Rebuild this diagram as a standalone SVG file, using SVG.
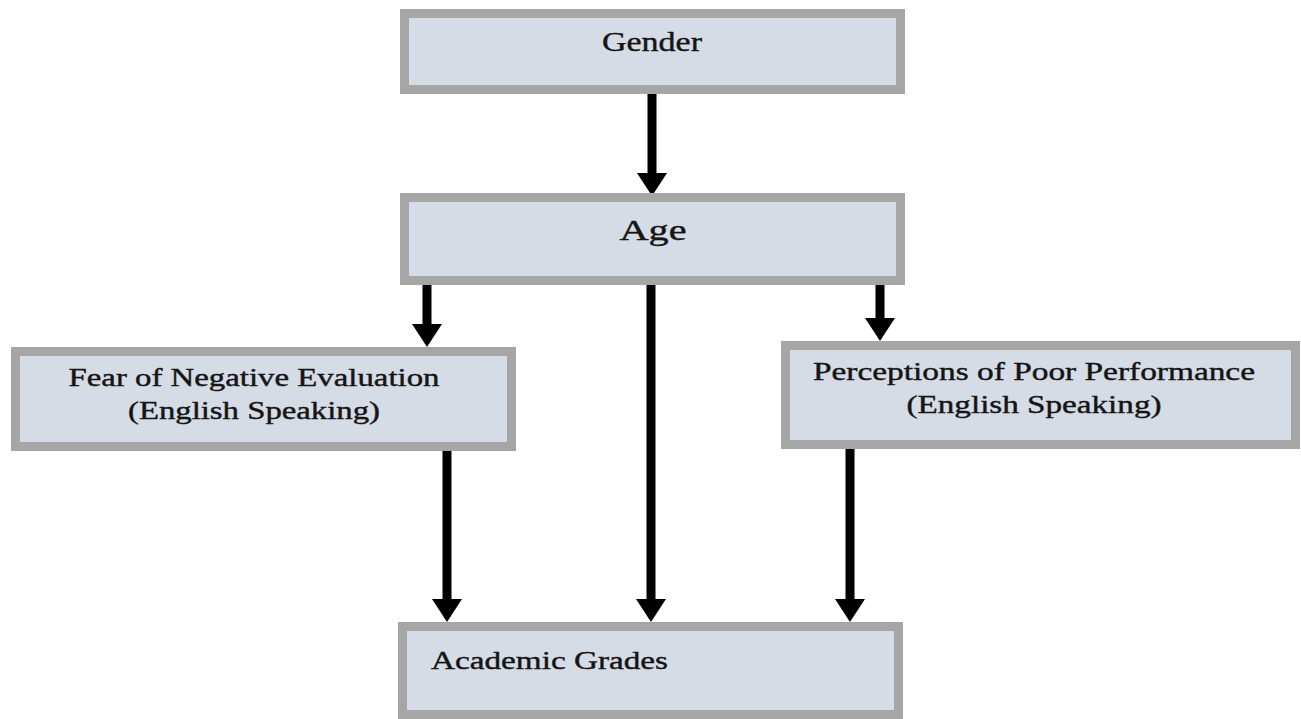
<svg xmlns="http://www.w3.org/2000/svg" width="1301" height="719" viewBox="0 0 1301 719">
<defs>
<style>
.box{fill:#d6dce5;stroke:#a6a6a6;stroke-width:9}
.t{font-family:"Liberation Serif","Times New Roman",serif;fill:#151515;stroke:#151515;stroke-width:0.4}
.c{stroke:#000;stroke-width:9;fill:none}
</style>
<marker id="ah" markerUnits="userSpaceOnUse" markerWidth="24" markerHeight="30" refX="2" refY="15" orient="auto" viewBox="0 0 24 30">
<path d="M0,0 L23,15 L0,30 Z" fill="#000"/>
</marker>
</defs>
<rect width="1301" height="719" fill="#fff"/>
<g id="connectors">
<line class="c" x1="652" y1="94" x2="652" y2="175" marker-end="url(#ah)"/>
<line class="c" x1="427" y1="285" x2="427" y2="326" marker-end="url(#ah)"/>
<line class="c" x1="651" y1="285" x2="651" y2="601" marker-end="url(#ah)"/>
<line class="c" x1="880" y1="285" x2="880" y2="320" marker-end="url(#ah)"/>
<line class="c" x1="447" y1="450" x2="447" y2="601" marker-end="url(#ah)"/>
<line class="c" x1="850" y1="448" x2="850" y2="601" marker-end="url(#ah)"/>
</g>
<g id="gender">
<rect class="box" x="404.5" y="13.5" width="496" height="76"/>
<text class="t" x="652" y="51" font-size="27" text-anchor="middle" textLength="100" lengthAdjust="spacingAndGlyphs">Gender</text>
</g>
<g id="age">
<rect class="box" x="404.5" y="197.5" width="496" height="83"/>
<text class="t" x="653" y="240" font-size="30" text-anchor="middle" textLength="67" lengthAdjust="spacingAndGlyphs">Age</text>
</g>
<g id="fear">
<rect class="box" x="15.5" y="351.5" width="496" height="95"/>
<text class="t" x="254" y="386" font-size="25" text-anchor="middle" textLength="371" lengthAdjust="spacingAndGlyphs">Fear of Negative Evaluation</text>
<text class="t" x="254" y="419" font-size="25" text-anchor="middle" textLength="252" lengthAdjust="spacingAndGlyphs">(English Speaking)</text>
</g>
<g id="perceptions">
<rect class="box" x="785.5" y="345.5" width="510" height="99"/>
<text class="t" x="1034" y="380" font-size="25" text-anchor="middle" textLength="442" lengthAdjust="spacingAndGlyphs">Perceptions of Poor Performance</text>
<text class="t" x="1034" y="413" font-size="25" text-anchor="middle" textLength="255" lengthAdjust="spacingAndGlyphs">(English Speaking)</text>
</g>
<g id="academic">
<rect class="box" x="402.5" y="626.5" width="496" height="88"/>
<text class="t" x="431" y="669" font-size="25" textLength="237" lengthAdjust="spacingAndGlyphs">Academic Grades</text>
</g>
</svg>
